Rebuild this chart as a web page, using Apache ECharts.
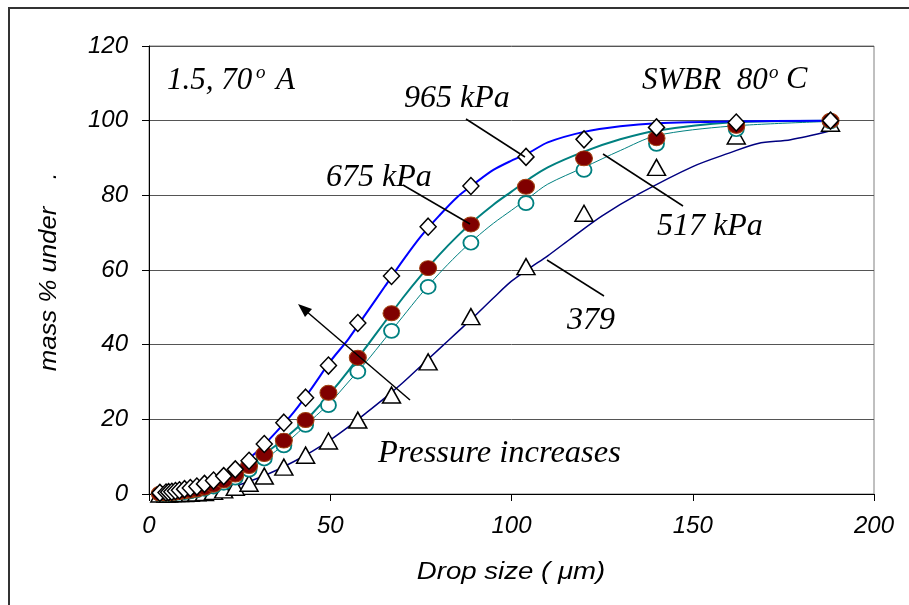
<!DOCTYPE html>
<html>
<head>
<meta charset="utf-8">
<script src="https://cdn.jsdelivr.net/npm/echarts@6/dist/echarts.min.js"></script>
<style>html,body{margin:0;padding:0;background:#fff}#c{width:909px;height:605px}</style>
</head>
<body>
<div id="c"></div>
<script>
// ---- data ----
const sizes = [3.0, 4.7, 5.4, 6.3, 7.3, 8.4, 9.8, 11.4, 13.2, 15.3, 17.8, 20.6, 23.8, 27.6, 31.8, 37.2, 43.2, 49.5, 57.6, 66.9, 77.0, 88.8, 104, 120, 140, 162, 188];
const p965 = [0.3, 0.4, 0.5, 0.6, 0.8, 1.0, 1.3, 1.6, 2.0, 2.7, 3.6, 4.8, 6.6, 8.9, 13.4, 19.1, 25.8, 34.4, 45.8, 58.4, 71.6, 82.5, 90.3, 95.0, 98.2, 99.5, 100];
const p675 = [0.1, 0.1, 0.2, 0.3, 0.4, 0.5, 0.7, 0.9, 1.2, 1.7, 2.5, 3.6, 5.2, 7.5, 10.7, 14.3, 19.8, 27.1, 36.5, 48.4, 60.5, 72.2, 82.3, 89.9, 95.3, 98.6, 100];
const p517 = [0.0, 0.0, 0.1, 0.2, 0.3, 0.4, 0.5, 0.7, 1.0, 1.4, 2.0, 3.0, 4.4, 6.5, 9.5, 13.0, 18.5, 23.8, 32.8, 43.7, 55.5, 67.3, 77.9, 86.8, 93.8, 97.7, 99.8];
const p379 = [0.0, 0.0, 0.0, 0.1, 0.1, 0.1, 0.1, 0.2, 0.3, 0.4, 0.7, 1.1, 1.8, 2.9, 4.8, 7.2, 10.4, 14.2, 19.8, 26.5, 35.4, 47.5, 60.9, 75.2, 87.5, 95.9, 99.3];

// fitted curves
const fitX965 = [3, 10, 15, 20, 25, 30, 35, 40, 45, 50, 55, 60, 65, 70, 75, 80, 85, 90, 95, 100, 105, 110, 120, 130, 140, 160, 188];
const fitY965 = [0, 1.2, 2.5, 4.5, 7.5, 11.5, 16.5, 22, 28.5, 35.5, 41.5, 48.5, 55.5, 62.5, 69, 74.5, 79.5, 83.3, 86.8, 89.3, 91.5, 94.2, 97, 98.5, 99.3, 99.8, 100];
const fitX675 = [3, 10, 15, 20, 25, 30, 35, 40, 45, 50, 55, 60, 65, 70, 75, 80, 85, 90, 95, 100, 105, 110, 120, 130, 140, 160, 188];
const fitY675 = [0, 0.8, 1.7, 3.5, 5.8, 9.5, 13, 17, 21.5, 27, 33, 39.5, 46, 52.5, 58.5, 64, 69, 73.5, 77.5, 81, 84.5, 87.5, 91.7, 95, 97.3, 99.5, 100];
const fitX517 = [3, 10, 15, 20, 25, 30, 35, 40, 45, 50, 55, 60, 65, 70, 75, 80, 85, 90, 95, 100, 105, 110, 120, 130, 140, 160, 188];
const fitY517 = [0, 0.6, 1.3, 2.8, 5, 8, 11.5, 15.5, 20, 24.5, 30, 35.5, 41.5, 47.5, 53.5, 59, 64, 68.5, 72.5, 76, 79.5, 83, 87.5, 92, 96, 98.5, 99.8];
const fitX379 = [3, 10, 15, 20, 25, 30, 35, 40, 45, 50, 55, 60, 65, 70, 75, 80, 85, 90, 95, 100, 105, 110, 117, 125, 135, 150, 160, 168, 177, 188];
const fitY379 = [0, 0.2, 0.5, 1.2, 2.5, 4.2, 6.3, 8.7, 11.4, 14.5, 18, 21.8, 25.7, 29.8, 34.3, 38.8, 43.3, 47.8, 52.5, 57, 60.5, 63.8, 68.9, 74.5, 80.3, 87.7, 91.3, 93.9, 94.9, 97.3];

const xTicks = [0, 50, 100, 150, 200];
const yTicks = [0, 20, 40, 60, 80, 100, 120];

function pairs(xs, ys) { return xs.map((x, i) => [x, ys[i]]); }

const chart = echarts.init(document.getElementById('c'), null, { renderer: 'canvas' });
const tickFont = { fontFamily: 'Liberation Sans', fontStyle: 'italic', fontSize: 24, color: '#000' };
const serif = 'italic 31px "Liberation Serif"';

function txt(x, y, s, opts) {
  return { type: 'text', x: x, y: y, z: 10, style: Object.assign({ text: s, font: serif, fill: '#000', textAlign: 'left', textVerticalAlign: 'bottom' }, opts || {}) };
}

const option = {
  animation: false,
  backgroundColor: '#fff',
  grid: { left: 149, right: 35, top: 46, bottom: 111, show: true, borderColor: '#808080', borderWidth: 1 },
  xAxis: {
    type: 'value', min: 0, max: 200, interval: 50,
    axisLine: { show: true, lineStyle: { color: '#000', width: 1 } },
    axisTick: { show: true, inside: false, length: 7, lineStyle: { color: '#000' } },
    axisLabel: Object.assign({ margin: 20 }, tickFont),
    splitLine: { show: false }
  },
  yAxis: {
    type: 'value', min: 0, max: 120, interval: 20,
    axisLine: { show: true, lineStyle: { color: '#000', width: 1 } },
    axisTick: { show: true, inside: false, length: 7, lineStyle: { color: '#000' } },
    axisLabel: Object.assign({ margin: 21 }, tickFont),
    splitLine: { show: true, lineStyle: { color: '#555', width: 1 } }
  },
  series: [
    { type: 'line', data: pairs(fitX379, fitY379), smooth: 0.3, showSymbol: false, lineStyle: { color: '#000080', width: 1.5 }, z: 2 },
    { type: 'line', data: pairs(fitX517, fitY517), smooth: 0.3, showSymbol: false, lineStyle: { color: '#008080', width: 1 }, z: 2 },
    { type: 'line', data: pairs(fitX675, fitY675), smooth: 0.3, showSymbol: false, lineStyle: { color: '#008080', width: 2 }, z: 2 },
    { type: 'line', data: pairs(fitX965, fitY965), smooth: 0.3, showSymbol: false, lineStyle: { color: '#0000ff', width: 2 }, z: 2 },
    { type: 'scatter', data: pairs(sizes, p379), symbol: 'triangle', symbolSize: [18, 16], itemStyle: { color: '#fff', borderColor: '#000', borderWidth: 1.5, opacity: 1 }, z: 3 },
    { type: 'scatter', data: pairs(sizes, p517), symbol: 'circle', symbolSize: [15, 14], itemStyle: { color: '#fff', borderColor: '#008080', borderWidth: 1.8, opacity: 1 }, z: 4 },
    { type: 'scatter', data: pairs(sizes, p675), symbol: 'circle', symbolSize: [17, 15], itemStyle: { color: '#800000', borderColor: '#a04010', borderWidth: 1, opacity: 1 }, z: 5 },
    { type: 'scatter', data: pairs(sizes, p965), symbol: 'diamond', symbolSize: [16, 17], itemStyle: { color: '#fff', borderColor: '#000', borderWidth: 1.5, opacity: 1 }, z: 6 }
  ],
  graphic: [
    { type: 'polyline', shape: { points: [[9, 605], [9, 8], [909, 8]] }, style: { stroke: '#333', lineWidth: 2, fill: null }, z: 10 },
    // leader lines
    { type: 'line', shape: { x1: 466, y1: 119, x2: 525, y2: 157 }, style: { stroke: '#000', lineWidth: 1.5 }, z: 10 },
    { type: 'line', shape: { x1: 403, y1: 185, x2: 470, y2: 224 }, style: { stroke: '#000', lineWidth: 1.5 }, z: 10 },
    { type: 'line', shape: { x1: 603, y1: 154, x2: 683, y2: 206 }, style: { stroke: '#000', lineWidth: 1.5 }, z: 10 },
    { type: 'line', shape: { x1: 547, y1: 260, x2: 604, y2: 296 }, style: { stroke: '#000', lineWidth: 1.5 }, z: 10 },
    { type: 'line', shape: { x1: 410, y1: 400, x2: 306, y2: 311 }, style: { stroke: '#000', lineWidth: 1.5 }, z: 10 },
    { type: 'polygon', shape: { points: [[298, 304], [312, 309], [305, 317]] }, style: { fill: '#000' }, z: 10 },
    // texts
    txt(167, 96, '1.5, 70'),
    txt(256, 82, 'o', { font: 'italic 19px "Liberation Serif"' }),
    txt(276, 96, 'A'),
    txt(642, 96, 'SWBR  80'),
    txt(769, 82, 'o', { font: 'italic 19px "Liberation Serif"' }),
    txt(786, 96, 'C', { font: 'italic 32px "Liberation Serif"' }),
    txt(404, 115, '965 kPa', { font: 'italic 32px "Liberation Serif"' }),
    txt(326, 194, '675 kPa', { font: 'italic 32px "Liberation Serif"' }),
    txt(657, 243, '517 kPa', { font: 'italic 32px "Liberation Serif"' }),
    txt(567, 337, '379', { font: 'italic 32px "Liberation Serif"' }),
    txt(378, 470, 'Pressure increases', { font: 'italic 32.5px "Liberation Serif"' }),
    // axis titles
    { type: 'text', x: 511, y: 572, scaleX: 1.15, z: 10, style: { text: 'Drop size ( \u03bcm)', font: 'italic 24px "Liberation Sans"', fill: '#000', textAlign: 'center', textVerticalAlign: 'middle' } },
    { type: 'text', x: 50, y: 289, rotation: Math.PI / 2, scaleX: 1.12, z: 10, style: { text: 'mass % under', font: 'italic 23px "Liberation Sans"', fill: '#000', textAlign: 'center', textVerticalAlign: 'middle' } },
    { type: 'text', x: 50, y: 176, rotation: Math.PI / 2, z: 10, style: { text: '.', font: 'italic 23px "Liberation Sans"', fill: '#000', textAlign: 'center', textVerticalAlign: 'middle' } }
  ]
};
chart.setOption(option);
</script>
</body>
</html>
